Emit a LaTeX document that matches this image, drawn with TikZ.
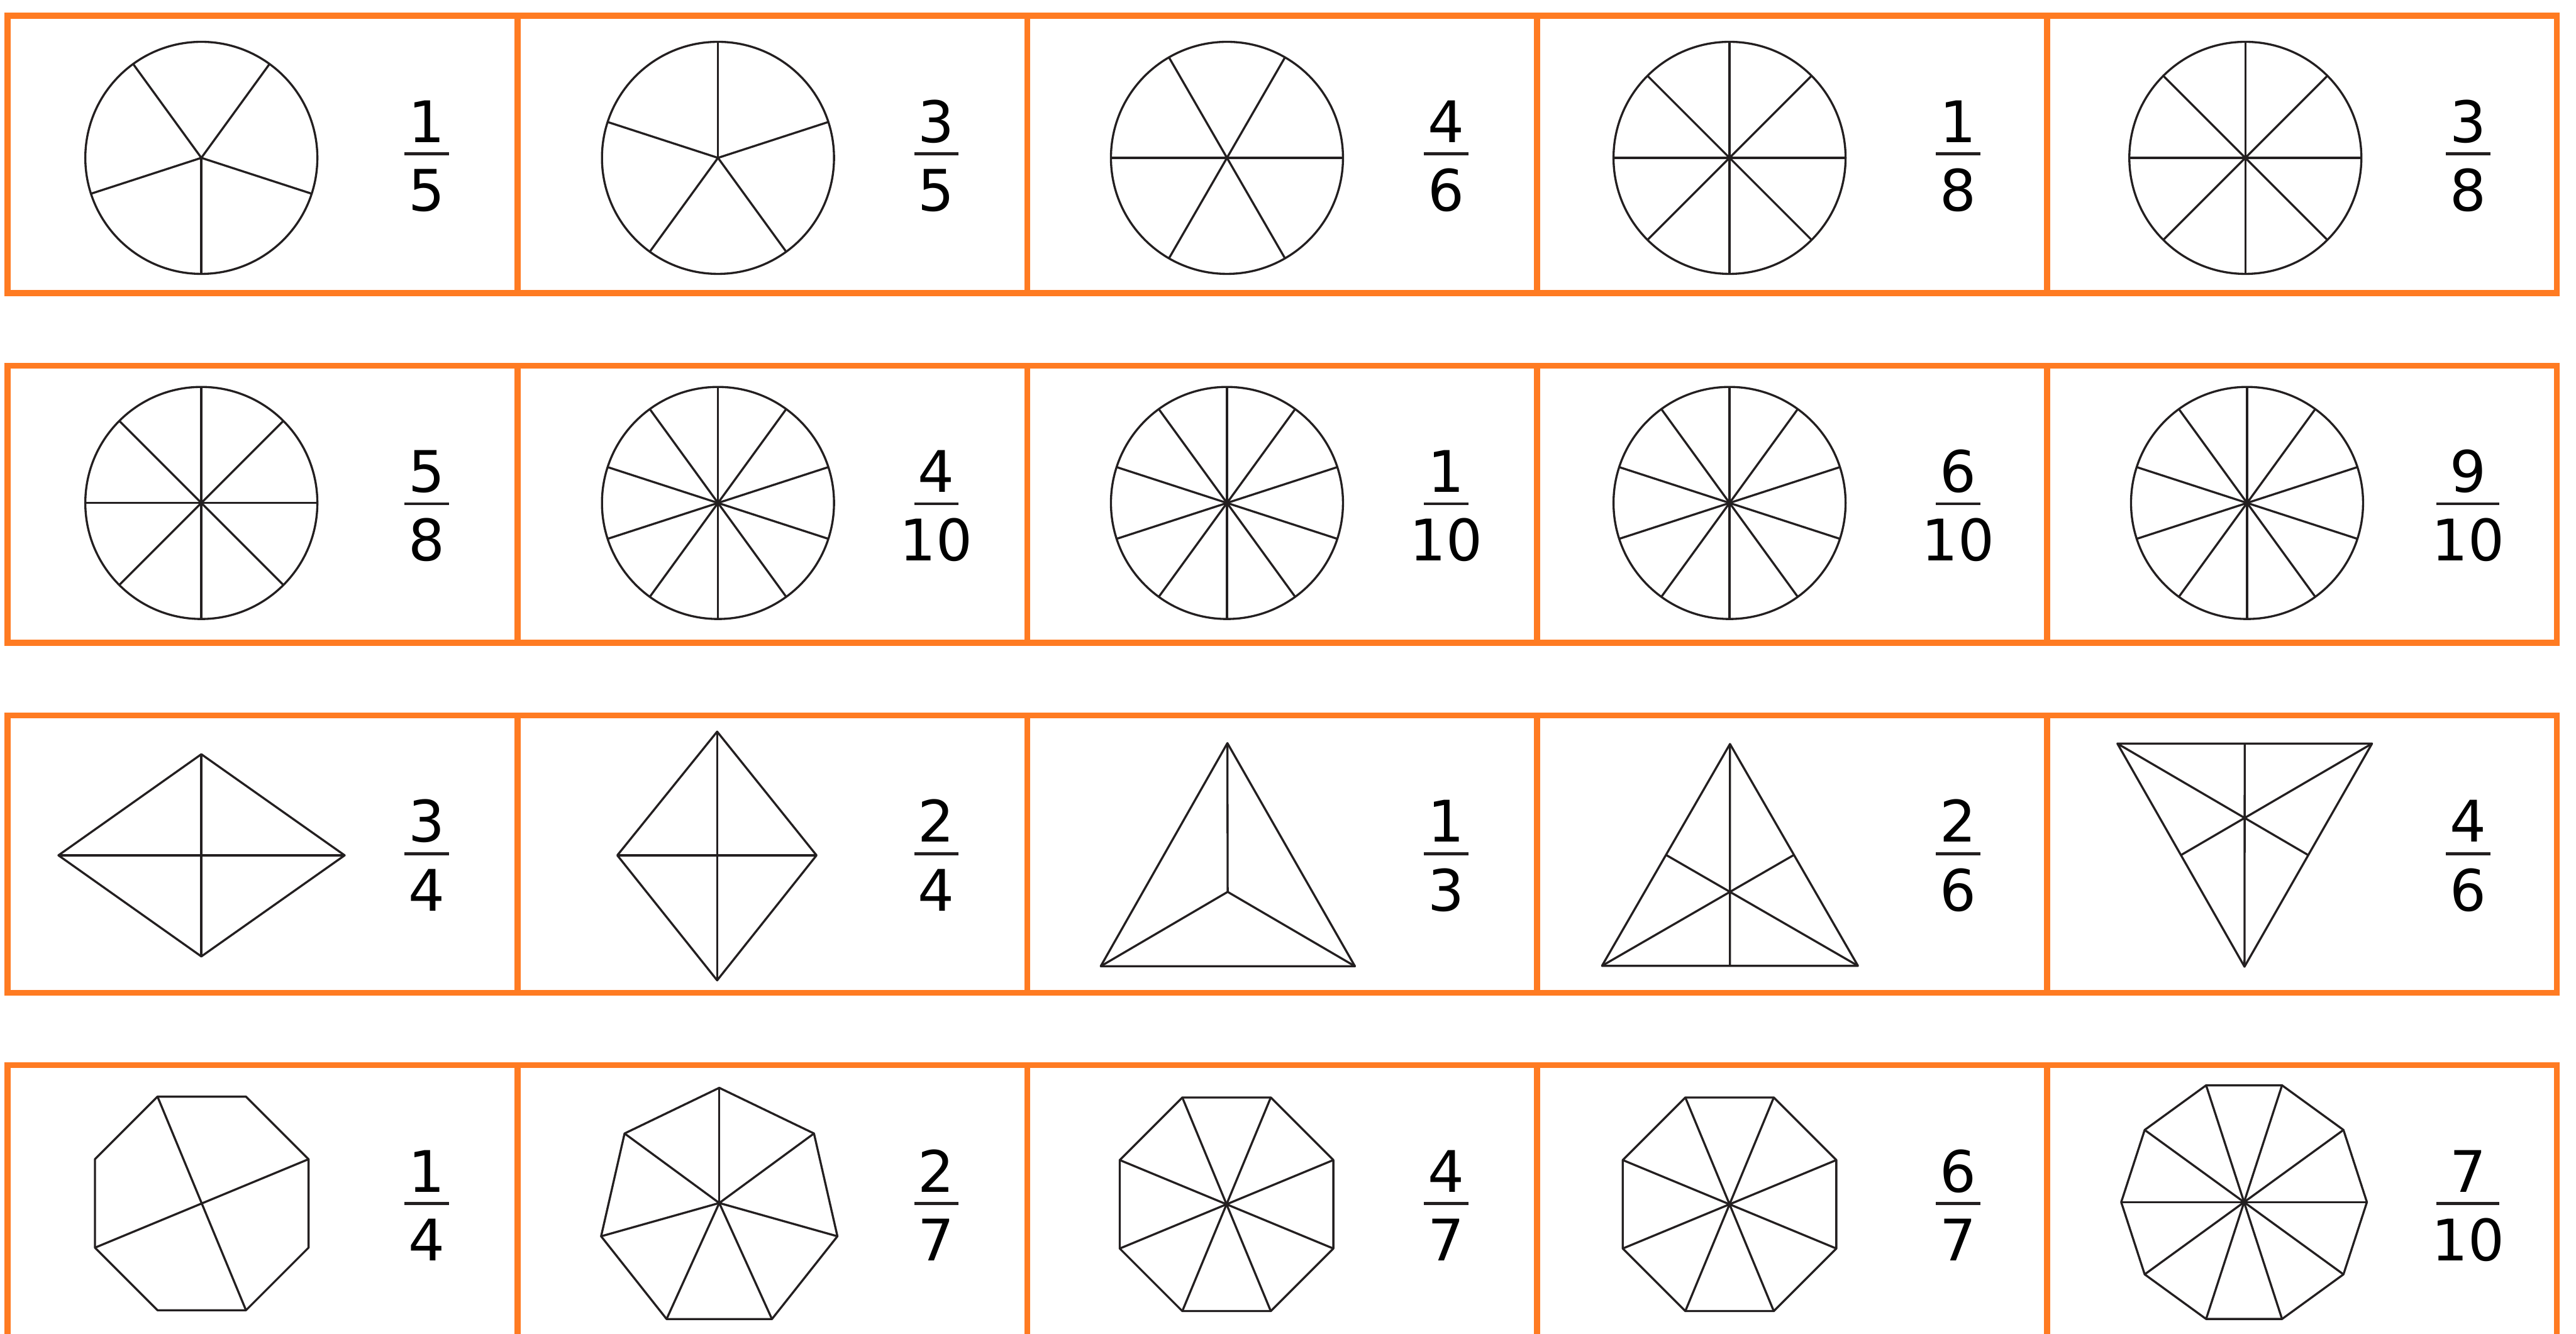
\documentclass[tikz,border=0pt]{standalone}
\usepackage{fontspec}
\setmainfont{DejaVu Sans}
\usepackage{xcolor}
\usepackage{tikz}
\usetikzlibrary{calc}
\definecolor{boxOrange}{HTML}{FF7B22}
\definecolor{inkGray}{HTML}{231F20}

% numerator, bar, denominator of one cell: name, x, top, bottom, half bar
\newcommand{\cellfrac}[5]{%
  \node[dig] (#1n) at (#2,-1.485) {#3};
  \node[dig] (#1d) at (#2,-2.29) {#4};
  \draw[fbar] (#2-#5,-1.62) -- (#2+#5,-1.62);}

\begin{document}
\begin{tikzpicture}[
  box/.style={draw=boxOrange,line width=2pt},
  shp/.style={draw=inkGray,line width=0.7pt,line join=round},
  dig/.style={anchor=base,inner sep=0pt,font=\fontsize{19.1pt}{23pt}\selectfont},
  fbar/.style={draw=inkGray,line width=1pt}]
\useasboundingbox (0,0) rectangle (30.195,-15.635);
\clip (0,0) rectangle (30.195,-15.635);
% orange frames: four rows of five cells
\foreach \r in {0,...,3}{
  \draw[box] (0.09,-0.185-4.1*\r) rectangle (29.97,-3.435-4.1*\r);
  \foreach \c in {1,...,4}
    \draw[box] (0.09+5.976*\c,-0.185-4.1*\r) -- ++(0,-3.25);
}
% row 1: circles
\begin{scope}[shift={(0.09,-0.185)}]
  \coordinate (w1) at (2.27,-1.665);
  \draw[shp] (w1) circle (1.36);
  \foreach \a in {270,342,54,126,198} \draw[shp] (w1) -- +(\a:1.36);
  \cellfrac{f1}{4.91}{1}{5}{0.26}
\end{scope}
\begin{scope}[shift={(6.066,-0.185)}]
  \coordinate (w2) at (2.35,-1.665);
  \draw[shp] (w2) circle (1.36);
  \foreach \a in {90,162,234,306,18} \draw[shp] (w2) -- +(\a:1.36);
  \cellfrac{f2}{4.91}{3}{5}{0.26}
\end{scope}
\begin{scope}[shift={(12.042,-0.185)}]
  \coordinate (w3) at (2.34,-1.665);
  \draw[shp] (w3) circle (1.36);
  \foreach \a in {0,60,...,300} \draw[shp] (w3) -- +(\a:1.36);
  \cellfrac{f3}{4.91}{4}{6}{0.26}
\end{scope}
\begin{scope}[shift={(18.018,-0.185)}]
  \coordinate (w4) at (2.255,-1.665);
  \draw[shp] (w4) circle (1.36);
  \foreach \a in {0,45,...,315} \draw[shp] (w4) -- +(\a:1.36);
  \cellfrac{f4}{4.935}{1}{8}{0.26}
\end{scope}
\begin{scope}[shift={(23.994,-0.185)}]
  \coordinate (w5) at (2.325,-1.665);
  \draw[shp] (w5) circle (1.36);
  \foreach \a in {0,45,...,315} \draw[shp] (w5) -- +(\a:1.36);
  \cellfrac{f5}{4.935}{3}{8}{0.26}
\end{scope}
% row 2: circles in eighths and tenths
\begin{scope}[shift={(0.09,-4.285)}]
  \coordinate (w6) at (2.27,-1.61);
  \draw[shp] (w6) circle (1.36);
  \foreach \a in {0,45,...,315} \draw[shp] (w6) -- +(\a:1.36);
  \cellfrac{f6}{4.91}{5}{8}{0.26}
\end{scope}
\begin{scope}[shift={(6.066,-4.285)}]
  \coordinate (w7) at (2.35,-1.61);
  \draw[shp] (w7) circle (1.36);
  \foreach \a in {18,54,...,342} \draw[shp] (w7) -- +(\a:1.36);
  \cellfrac{f7}{4.91}{4}{10}{0.26}
\end{scope}
\begin{scope}[shift={(12.042,-4.285)}]
  \coordinate (w8) at (2.34,-1.61);
  \draw[shp] (w8) circle (1.36);
  \foreach \a in {18,54,...,342} \draw[shp] (w8) -- +(\a:1.36);
  \cellfrac{f8}{4.91}{1}{10}{0.26}
\end{scope}
\begin{scope}[shift={(18.018,-4.285)}]
  \coordinate (w9) at (2.255,-1.61);
  \draw[shp] (w9) circle (1.36);
  \foreach \a in {18,54,...,342} \draw[shp] (w9) -- +(\a:1.36);
  \cellfrac{f9}{4.935}{6}{10}{0.26}
\end{scope}
\begin{scope}[shift={(23.994,-4.285)}]
  \coordinate (w10) at (2.345,-1.61);
  \draw[shp] (w10) circle (1.36);
  \foreach \a in {18,54,...,342} \draw[shp] (w10) -- +(\a:1.36);
  \cellfrac{f10}{4.935}{9}{10}{0.3675}
\end{scope}
% row 3: rhombi and triangles
\begin{scope}[shift={(0.09,-8.385)}]
  \coordinate (k1l) at (0.595,-1.64); \coordinate (k1r) at (3.95,-1.64);
  \coordinate (k1t) at (2.27,-0.455); \coordinate (k1b) at (2.27,-2.825);
  \draw[shp] (k1l) -- (k1t) -- (k1r) -- (k1b) -- cycle;
  \draw[shp] (k1l) -- (k1r) (k1t) -- (k1b);
  \cellfrac{f11}{4.91}{3}{4}{0.26}
\end{scope}
\begin{scope}[shift={(6.066,-8.385)}]
  \coordinate (k2l) at (1.17,-1.64); \coordinate (k2r) at (3.505,-1.64);
  \coordinate (k2t) at (2.34,-0.19); \coordinate (k2b) at (2.34,-3.105);
  \draw[shp] (k2l) -- (k2t) -- (k2r) -- (k2b) -- cycle;
  \draw[shp] (k2l) -- (k2r) (k2t) -- (k2b);
  \cellfrac{f12}{4.91}{2}{4}{0.26}
\end{scope}
\begin{scope}[shift={(12.042,-8.385)}]
  \coordinate (t1a) at (2.345,-0.325); \coordinate (t1l) at (0.86,-2.94);
  \coordinate (t1r) at (3.84,-2.94);
  \coordinate (t1c) at (barycentric cs:t1a=1,t1l=1,t1r=1);
  \draw[shp] (t1a) -- (t1l) -- (t1r) -- cycle;
  \draw[shp] (t1a) -- (t1c) (t1l) -- (t1c) -- (t1r);
  \cellfrac{f13}{4.91}{1}{3}{0.26}
\end{scope}
\begin{scope}[shift={(18.018,-8.385)}]
  \coordinate (t2a) at (2.26,-0.335); \coordinate (t2l) at (0.76,-2.935);
  \coordinate (t2r) at (3.76,-2.935);
  \draw[shp] (t2a) -- (t2l) -- (t2r) -- cycle;
  \draw[shp] (t2a) -- ($(t2l)!0.5!(t2r)$) (t2l) -- ($(t2a)!0.5!(t2r)$)
    (t2r) -- ($(t2a)!0.5!(t2l)$);
  \cellfrac{f14}{4.935}{2}{6}{0.26}
\end{scope}
\begin{scope}[shift={(23.994,-8.385)}]
  \coordinate (t3l) at (0.825,-0.33); \coordinate (t3r) at (3.81,-0.33);
  \coordinate (t3a) at (2.315,-2.945);
  \draw[shp] (t3l) -- (t3r) -- (t3a) -- cycle;
  \draw[shp] (t3a) -- ($(t3l)!0.5!(t3r)$) (t3l) -- ($(t3r)!0.5!(t3a)$)
    (t3r) -- ($(t3l)!0.5!(t3a)$);
  \cellfrac{f15}{4.935}{4}{6}{0.26}
\end{scope}
% row 4: octagons, heptagon, decagon
\begin{scope}[shift={(0.09,-12.485)}]
  \coordinate (g1) at (2.275,-1.62);
  \draw[shp] ($(g1)+(22.5:1.355)$)
    \foreach \a in {67.5,112.5,...,337.5}{ -- ($(g1)+(\a:1.355)$)} -- cycle;
  \draw[shp] ($(g1)+(112.5:1.355)$) -- ($(g1)+(292.5:1.355)$)
    ($(g1)+(202.5:1.355)$) -- ($(g1)+(22.5:1.355)$);
  \cellfrac{f16}{4.91}{1}{4}{0.26}
\end{scope}
\begin{scope}[shift={(6.066,-12.485)}]
  \coordinate (h1) at (2.365,-1.615);
  \draw[shp] ($(h1)+(0,1.35)$) -- ($(h1)+(1.11,0.815)$) -- ($(h1)+(1.385,-0.39)$)
    -- ($(h1)+(0.6175,-1.36)$) -- ($(h1)+(-0.6175,-1.36)$)
    -- ($(h1)+(-1.385,-0.39)$) -- ($(h1)+(-1.11,0.815)$) -- cycle;
  \foreach \x/\y in {0/1.35,1.11/0.815,1.385/-0.39,0.6175/-1.36,
      -0.6175/-1.36,-1.385/-0.39,-1.11/0.815}
    \draw[shp] (h1) -- +(\x,\y);
  \cellfrac{f17}{4.91}{2}{7}{0.26}
\end{scope}
\begin{scope}[shift={(12.042,-12.485)}]
  \coordinate (g2) at (2.335,-1.63);
  \draw[shp] ($(g2)+(22.5:1.355)$)
    \foreach \a in {67.5,112.5,...,337.5}{ -- ($(g2)+(\a:1.355)$)} -- cycle;
  \foreach \a in {22.5,67.5,...,337.5} \draw[shp] (g2) -- +(\a:1.355);
  \cellfrac{f18}{4.91}{4}{7}{0.26}
\end{scope}
\begin{scope}[shift={(18.018,-12.485)}]
  \coordinate (g3) at (2.255,-1.63);
  \draw[shp] ($(g3)+(22.5:1.355)$)
    \foreach \a in {67.5,112.5,...,337.5}{ -- ($(g3)+(\a:1.355)$)} -- cycle;
  \foreach \a in {22.5,67.5,...,337.5} \draw[shp] (g3) -- +(\a:1.355);
  \cellfrac{f19}{4.935}{6}{7}{0.26}
\end{scope}
\begin{scope}[shift={(23.994,-12.485)}]
  \coordinate (d1) at (2.31,-1.605);
  \draw[shp] ($(d1)+(0:1.44)$)
    \foreach \a in {36,72,...,324}{ -- ($(d1)+(\a:1.44)$)} -- cycle;
  \foreach \a in {0,36,...,324} \draw[shp] (d1) -- +(\a:1.44);
  \cellfrac{f20}{4.935}{7}{10}{0.3675}
\end{scope}
\end{tikzpicture}
\end{document}
